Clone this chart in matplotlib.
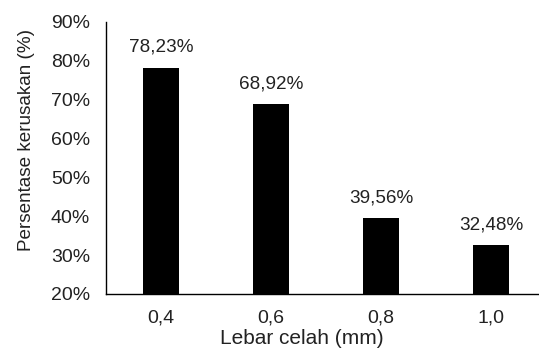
import matplotlib
matplotlib.use("Agg")
import matplotlib.pyplot as plt

plt.rcParams["font.family"] = ["Liberation Sans", "DejaVu Sans"]

# lebar celah vs persentase kerusakan
celah = ["0,4", "0,6", "0,8", "1,0"]
kerusakan = [78.23, 68.92, 39.56, 32.48]
label_nilai = ["78,23%", "68,92%", "39,56%", "32,48%"]

fig = plt.figure(figsize=(5.39, 3.52), dpi=100)
ax = fig.add_axes([0.1967, 0.1648, 0.8033, 0.7727])

x = range(len(celah))
bars = ax.bar(x, kerusakan, width=0.32, color="black", bottom=0)

for i, b in enumerate(bars):
    ax.annotate(label_nilai[i], (b.get_x() + b.get_width() / 2, b.get_height()),
                xytext=(0, 8.5), textcoords="offset points",
                ha="center", va="bottom", fontsize=13.6, color="#222222")

ax.set_ylim(20, 90)
ax.set_xlim(-0.5, 3.436)
ax.set_yticks(range(20, 91, 10))
ax.set_yticklabels([f"{v}%" for v in range(20, 91, 10)])
ax.set_xticks(list(x))
ax.set_xticklabels(celah)
ax.tick_params(axis="both", length=0, labelsize=14, colors="#222222")
ax.tick_params(axis="x", pad=11)
ax.tick_params(axis="y", pad=11.5)

for s in ["top", "right"]:
    ax.spines[s].set_visible(False)
ax.spines["left"].set_linewidth(1.0)
ax.spines["bottom"].set_linewidth(1.0)

ax.set_xlabel("Lebar celah (mm)", fontsize=15, color="#222222")
ax.xaxis.set_label_coords(0.4527, -0.13)
ax.set_ylabel("Persentase kerusakan (%)", fontsize=13.6, color="#222222", va="center")
ax.yaxis.set_label_coords(-0.184, 0.566)

fig.savefig("out.png", dpi=100)
